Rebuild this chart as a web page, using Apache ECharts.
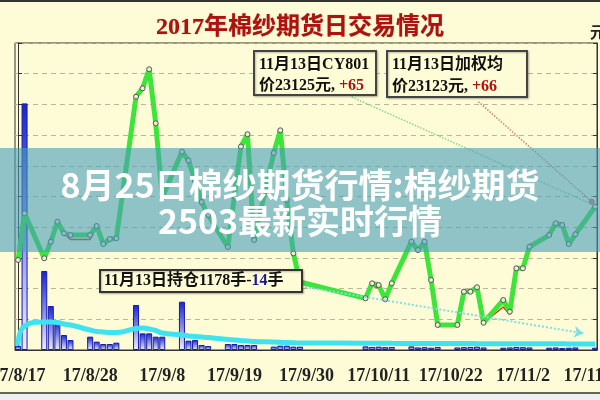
<!DOCTYPE html>
<html>
<head>
<meta charset="utf-8">
<script src="https://cdn.jsdelivr.net/npm/echarts@6/dist/echarts.min.js"></script>
<style>
html,body{margin:0;padding:0;background:#fdfcd6;}
#chart{width:600px;height:400px;}
</style>
</head>
<body>
<div id="chart"></div>
<script>
// ---- data (day index counted from 2017-08-17) ----
const tradingDays = [0,1,4,5,6,7,8,11,12,13,14,15,18,19,20,21,22,25,26,27,28,29,32,33,34,35,36,39,40,41,42,43,53,54,55,56,57,60,61,62,63,64,67,68,69,70,71,74,75,76,77,78,81,82,83,84,85,88];
const price = [22733,23113,22747,22882,23045,22950,22936,
  22936,23010,22863,22904,22910,
  24063,24131,24286,23846,23242,
  23615,23543,23376,23205,23099,
  22839,23254,23657,23757,22896,
  23604,23789,23221,22787,22554,
  22421,22543,22529,22413,22543,
  22882,22814,22882,22570,22204,
  22204,22475,22475,22511,22222,
  22407,22312,22665,22665,22841,
  22936,23032,23018,22863,22942,
  23167];
const avgPrice = [22733,23113,22747,22882,23045,22950,22900,
  22900,23010,22863,22904,22910,
  24063,24131,24286,23846,23242,
  23615,23543,23376,23205,23099,
  22839,23254,23657,23757,22896,
  23604,23789,23221,22787,22554,
  22421,22520,22505,22413,22543,
  22882,22814,22882,22570,22204,
  22204,22475,22475,22511,22222,
  22350,22290,22665,22665,22841,
  22936,23032,23018,22863,22942,
  23160];
const volume = [800,48200,15440,8600,5530,2930,1950,
  2600,1630,1170,1170,1430,
  8800,3250,3250,2600,2600,
  9440,1820,1950,980,780,
  1170,1170,980,980,980,
  650,850,850,650,650,
  700,600,650,550,600,
  700,500,550,450,600,
  500,550,600,650,500,
  450,500,600,550,500,
  450,500,400,450,500,
  450];
const openInterest = [900,4690,5471,5471,5374,5080,4885,
  3908,3613,3517,3420,3420,
  4201,4299,4103,3810,3322,
  2931,2736,2638,2540,2443,
  2052,1954,1856,1759,1661,
  1563,1505,1446,1407,1368,
  1330,1320,1310,1300,1295,
  1290,1285,1280,1270,1265,
  1260,1255,1250,1245,1240,
  1235,1230,1225,1220,1215,
  1210,1205,1200,1195,1192,
  1178];
const xTickDays = [0,11,22,33,44,55,66,77,88];
const xTickLabels = ['17/8/17','17/8/28','17/9/8','17/9/19','17/9/30','17/10/11','17/10/22','17/11/2','17/11/13'];
// annotation leader lines [day, price]
const leaderCY = [[50.9,24060],[87.7,23181]];
const leaderAvg = [[70.2,24022],[87.5,23208]];
const leaderOI = [[43.8,22513],[86.2,22136]];

const zip = (a,b) => a.map((v,i)=>[v,b[i]]);
const chart = echarts.init(document.getElementById('chart'));
const BG = '#fdfcd6';
const calloutFont = 'bold 16px "Liberation Serif", "Noto Sans CJK SC", serif';

const option = {
  animation:false,
  backgroundColor: BG,
  grid:{left:15,right:3,top:43,bottom:50,containLabel:false,outerBoundsMode:'none',show:true,borderColor:'#333',borderWidth:1,backgroundColor:'transparent'},
  xAxis:{type:'value',min:-0.46,max:88.3,
    axisLine:{show:true,lineStyle:{color:'#333'}},
    axisTick:{show:false},
    splitLine:{show:false},
    axisLabel:{customValues:xTickDays,margin:17,color:'#222',fontFamily:'"Liberation Serif", serif',fontWeight:'bold',fontSize:18,
      formatter:(v)=>{const i=xTickDays.indexOf(Math.round(v));return i>=0?xTickLabels[i]:'';}}
  },
  yAxis:[
    {type:'value',min:0,max:60000,interval:6000,position:'left',
      axisLine:{show:true,lineStyle:{color:'#333'}},
      axisTick:{show:true,inside:true,length:4,lineStyle:{color:'#333'}},
      axisLabel:{show:false},
      splitLine:{show:true,lineStyle:{color:'#bdb49a',type:[5,4],width:1}}},
    {type:'value',min:22000,max:24500,interval:250,position:'right',
      axisLine:{show:true,lineStyle:{color:'#333'}},
      axisTick:{show:true,inside:true,length:4,lineStyle:{color:'#333'}},
      axisLabel:{show:false},
      splitLine:{show:false}}
  ],
  series:[
    {type:'bar',name:'成交量',yAxisIndex:0,barWidth:6,data:zip(tradingDays,volume),
      itemStyle:{color:new echarts.graphic.LinearGradient(0,0,0,1,[{offset:0,color:'#1626d0'},{offset:1,color:'#eef0ff'}]),borderColor:'#1a1aa8',borderWidth:1}},
    {type:'line',name:'持仓',yAxisIndex:0,smooth:true,showSymbol:false,data:zip(tradingDays,openInterest),
      lineStyle:{color:'#3fe2ef',width:5}},
    {type:'line',name:'加权均价',yAxisIndex:1,showSymbol:false,data:zip(tradingDays,avgPrice),
      lineStyle:{color:'#d6301c',width:1.5}},
    {type:'line',name:'CY801',yAxisIndex:1,symbol:'circle',symbolSize:5,data:zip(tradingDays,price),
      lineStyle:{color:'#3ee43a',width:5},
      itemStyle:{color:'#e6efcf',borderColor:'#555',borderWidth:1},
      markLine:{silent:true,animation:false,label:{show:false},
        data:[
          [{coord:leaderCY[0],symbol:'none',lineStyle:{color:'#86d886',type:'dotted',width:1.5}},{coord:leaderCY[1],symbol:'none'}],
          [{coord:leaderAvg[0],symbol:'none',lineStyle:{color:'#c88070',type:'dotted',width:1.5}},{coord:leaderAvg[1],symbol:'circle',symbolSize:6,itemStyle:{color:'#999'}}],
          [{coord:leaderOI[0],symbol:'none',lineStyle:{color:'#80dde8',type:'dotted',width:2}},{coord:leaderOI[1],symbol:'arrow',symbolSize:9,itemStyle:{color:'#80dde8'}}]
        ]}}
  ],
  graphic:[
    {type:'line',shape:{x1:0,y1:1,x2:600,y2:1},style:{stroke:'#333',lineWidth:2},z:1},
    {type:'line',shape:{x1:0,y1:393,x2:600,y2:393},style:{stroke:'#333',lineWidth:1.5},z:1},
    {type:'rect',shape:{x:0,y:394,width:600,height:6},style:{fill:'#eeeff3'},z:1},
    {type:'text',x:300,y:28,style:{text:'2017年棉纱期货日交易情况',font:'bold 24px "Liberation Serif", "Noto Sans CJK SC", serif',fill:'#ad120e',align:'center',verticalAlign:'middle',textShadowColor:'rgba(90,0,0,0.5)',textShadowBlur:1}},
    {type:'text',x:590,y:32,style:{text:'元',font:'bold 16px "Noto Sans CJK SC"',fill:'#222',align:'left',verticalAlign:'middle'}},
    // callout 1
    {type:'rect',shape:{x:254,y:51,width:122,height:44},style:{fill:BG,stroke:'#444',lineWidth:2,shadowColor:'rgba(0,0,0,0.25)',shadowBlur:2,shadowOffsetX:1,shadowOffsetY:1},z:50},
    {type:'text',x:259,y:65,z:51,style:{text:'11月13日CY801',font:calloutFont,fill:'#111',align:'left',verticalAlign:'middle'}},
    {type:'text',x:259,y:86,z:51,style:{text:'价23125元, {r|+65}',font:calloutFont,fill:'#111',align:'left',verticalAlign:'middle',rich:{r:{fill:'#b01010',font:calloutFont}}}},
    // callout 2
    {type:'rect',shape:{x:387,y:51,width:140,height:46},style:{fill:BG,stroke:'#444',lineWidth:2,shadowColor:'rgba(0,0,0,0.25)',shadowBlur:2,shadowOffsetX:1,shadowOffsetY:1},z:50},
    {type:'text',x:392,y:65,z:51,style:{text:'11月13日加权均',font:calloutFont,fill:'#111',align:'left',verticalAlign:'middle'}},
    {type:'text',x:392,y:87,z:51,style:{text:'价23123元, {r|+66}',font:calloutFont,fill:'#111',align:'left',verticalAlign:'middle',rich:{r:{fill:'#b01010',font:calloutFont}}}},
    // callout 3
    {type:'rect',shape:{x:100,y:270,width:202,height:22},style:{fill:BG,stroke:'#333',lineWidth:2,shadowColor:'rgba(0,0,0,0.25)',shadowBlur:2,shadowOffsetX:1,shadowOffsetY:1},z:50},
    {type:'text',x:104,y:281,z:51,style:{text:'11月13日持仓1178手-{b|14}手',font:calloutFont,fill:'#111',align:'left',verticalAlign:'middle',rich:{b:{fill:'#1a1a90',font:calloutFont}}}},
    // banner overlay
    {type:'rect',shape:{x:0,y:148,width:600,height:104},style:{fill:'rgba(72,156,186,0.6)'},z:100},
    {type:'text',x:300,y:185,z:101,style:{text:'8月25日棉纱期货行情:棉纱期货',font:'bold 34px "Noto Sans CJK SC"',fill:'#ffffff',align:'center',verticalAlign:'middle'}},
    {type:'text',x:300,y:221,z:101,style:{text:'2503最新实时行情',font:'bold 34px "Noto Sans CJK SC"',fill:'#ffffff',align:'center',verticalAlign:'middle'}}
  ]
};
chart.setOption(option);
</script>
</body>
</html>
